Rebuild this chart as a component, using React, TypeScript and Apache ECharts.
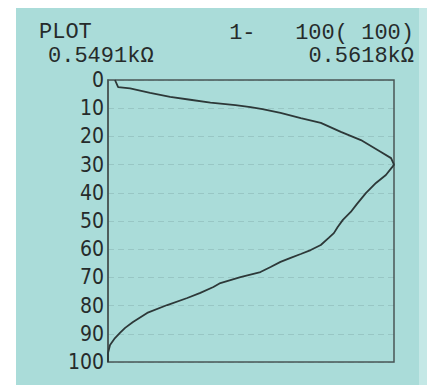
import React, { useEffect, useRef } from "react";
import * as echarts from "echarts";

// Point index (0 at top, 100 at bottom) and measured resistance in kΩ
const depths = [
  0, 2.5, 3, 4.6, 6, 7, 8, 8.9, 9.6, 10.3, 11.7, 13.5, 15.2, 18.4, 21.3, 25.5, 27.7, 30,
  31, 33.7, 36.5, 40.1, 44, 46.8, 49.6, 52.1, 54.3, 56, 58.5, 60.3, 61.7, 63.1, 64.5,
  66.3, 68.1, 69.9, 72, 73.4, 75.5, 77.3, 79.8, 82.6, 85.8, 87.9, 89.7, 91.5, 94, 96.8, 100,
];
const resistances = [
  0.54941, 0.54955, 0.55008, 0.55097, 0.55186, 0.55275, 0.55365, 0.55476, 0.55543, 0.55596,
  0.55676, 0.55766, 0.55855, 0.55944, 0.56033, 0.56122, 0.56167, 0.5618,
  0.56171, 0.56144, 0.561, 0.56055, 0.56015, 0.55988, 0.55953, 0.5593, 0.55913, 0.5589,
  0.55855, 0.5581, 0.55766, 0.55721, 0.55676, 0.55632, 0.55587, 0.55498, 0.55409, 0.55378,
  0.5532, 0.55262, 0.55173, 0.55084, 0.55021, 0.54986, 0.54963, 0.54941, 0.54919, 0.5491, 0.5491,
];
const minValue = 0.5491;
const maxValue = 0.5618;
const yTicks = [0, 10, 20, 30, 40, 50, 60, 70, 80, 90, 100];
const headerLeft = ["PLOT", "0.5491kΩ"];
const headerRight = ["1-   100( 100)", "0.5618kΩ"];

export default function App() {
  const ref = useRef<HTMLDivElement>(null);
  useEffect(() => {
    if (!ref.current) return;
    const chart = echarts.init(ref.current, null, { renderer: "svg" });
    const mono = "'Liberation Mono', 'DejaVu Sans Mono', monospace";
    const ink = "#262b2b";
    const hdr = (text: string, x: number, y: number, align: string) => ({
      type: "text",
      x,
      y,
      style: { text, font: `22px ${mono}`, fill: ink, textAlign: align, textVerticalAlign: "middle" },
    });
    chart.setOption({
      animation: false,
      backgroundColor: "#aadcd9",
      graphic: [
        { type: "rect", shape: { x: 0, y: 0, width: 427, height: 8 }, style: { fill: "#ffffff" } },
        { type: "rect", shape: { x: 0, y: 0, width: 16, height: 385 }, style: { fill: "#ffffff" } },
        { type: "rect", shape: { x: 419, y: 8, width: 8, height: 377 }, style: { fill: "#c4e8e6" } },
        hdr(headerLeft[0], 39, 32, "left"),
        hdr(headerLeft[1], 48, 56, "left"),
        hdr(headerRight[0], 414, 33, "right"),
        hdr(headerRight[1], 414, 56, "right"),
      ],
      grid: {
        left: 108,
        right: 33,
        top: 80,
        bottom: 23,
        show: true,
        borderColor: "#4a5555",
        borderWidth: 1.5,
        backgroundColor: "transparent",
      },
      xAxis: {
        type: "value",
        min: minValue,
        max: maxValue,
        show: false,
        splitLine: { show: false },
      },
      yAxis: {
        type: "value",
        inverse: true,
        min: 0,
        max: 100,
        interval: 10,
        axisLine: { show: true, lineStyle: { color: "#4a5555", width: 1.5 } },
        axisTick: { show: false },
        axisLabel: {
          color: ink,
          fontSize: 21,
          fontFamily: "'Liberation Sans Narrow', 'DejaVu Sans Condensed', 'Roboto', sans-serif",
          margin: 4,
          formatter: (v: number) => (yTicks.includes(v) ? String(v) : ""),
        },
        splitLine: { show: true, lineStyle: { color: "rgba(60,90,90,0.16)", type: [6, 4], width: 1 } },
      },
      series: [
        {
          type: "line",
          data: depths.map((d, i) => [resistances[i], d]),
          showSymbol: false,
          lineStyle: { color: "#2d3838", width: 1.8 },
          clip: false,
        },
      ],
    });
    return () => chart.dispose();
  }, []);
  return <div ref={ref} style={{ position: "fixed", left: 0, top: 0, width: 427, height: 385 }} />;
}
